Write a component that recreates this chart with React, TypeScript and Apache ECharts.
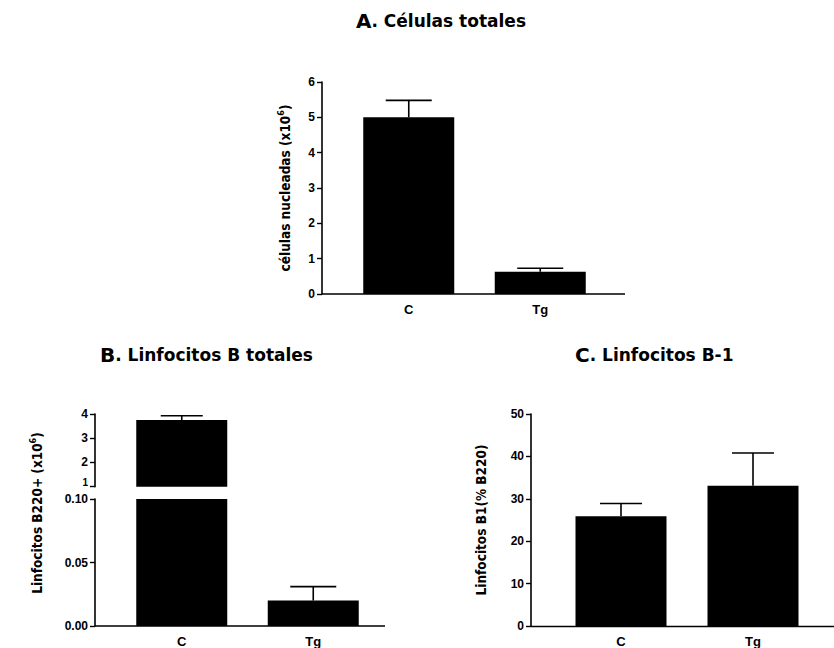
import React, { useEffect, useRef } from 'react';
import * as echarts from 'echarts';

// ---- data ----
const categories = ['C', 'Tg'];
// A. Células totales (x10^6)
const cellsMean = [5.0, 0.63];
const cellsErr = [0.48, 0.1];
// B. Linfocitos B totales, B220+ (x10^6) – broken axis
const b220Mean = [3.75, 0.02];
const b220Err = [0.18, 0.011];
// C. Linfocitos B-1 (% B220)
const b1Mean = [25.9, 33.1];
const b1Err = [3.0, 7.7];

const titles = ['Células totales', 'Linfocitos B totales', 'Linfocitos B-1'];
const titleLetters = ['A', 'B', 'C'];

const SANS = "'Liberation Sans', Arial, Helvetica, sans-serif";
const NARROW = "'Liberation Sans Narrow', 'DejaVu Sans Condensed', 'Arial Narrow', sans-serif";
const WIDE = "'DejaVu Sans', Verdana, sans-serif";

const nameRich = {
  t: { fontFamily: NARROW, fontWeight: 'bold', fontSize: 13.5, color: '#000', lineHeight: 17 },
  s: { fontFamily: NARROW, fontWeight: 'bold', fontSize: 9, color: '#000', verticalAlign: 'top', lineHeight: 9 },
};

const titleRich = {
  a: { fontFamily: WIDE, fontWeight: 'bold', fontSize: 20, color: '#000' },
  b: { fontFamily: WIDE, fontWeight: 'bold', fontSize: 17, color: '#000' },
};

function makeErrRender(capW: number) {
  return (params: any, api: any) => {
    const x = api.value(0);
    const y = api.value(1);
    const e = api.value(2);
    const p0 = api.coord([x, y]);
    const p1 = api.coord([x, y + e]);
    const st = { stroke: '#000', lineWidth: 1.6 };
    return {
      type: 'group',
      children: [
        { type: 'line', shape: { x1: p0[0], y1: p0[1], x2: p1[0], y2: p1[1] }, style: st },
        { type: 'line', shape: { x1: p1[0] - capW / 2, y1: p1[1], x2: p1[0] + capW / 2, y2: p1[1] }, style: st },
      ],
    };
  };
}

const yAxisBase = (grid: number, min: number, max: number, interval: number, offset: number, fmt?: any, rich?: any) => ({
  type: 'value',
  gridIndex: grid,
  min,
  max,
  interval,
  offset,
  splitLine: { show: false },
  axisLine: { show: true, lineStyle: { color: '#000', width: 1.6 } },
  axisTick: { show: true, length: 5, lineStyle: { color: '#000', width: 1.4 } },
  axisLabel: {
    color: '#000',
    fontFamily: SANS,
    fontWeight: 'bold',
    fontSize: 12,
    margin: 7,
    formatter: fmt,
    rich,
  },
});

const xAxisBase = (grid: number, showLabels: boolean) => ({
  type: 'category',
  gridIndex: grid,
  data: categories,
  axisLine: { show: false },
  axisTick: { show: false },
  axisLabel: {
    show: showLabels,
    color: '#000',
    fontFamily: SANS,
    fontWeight: 'bold',
    fontSize: 13,
    margin: 9,
  },
});

const barSeries = (grid: number, values: number[]) => ({
  type: 'bar',
  xAxisIndex: grid,
  yAxisIndex: grid,
  data: values,
  barWidth: 91,
  clip: true,
  itemStyle: { color: '#000' },
  silent: true,
});

const errSeries = (grid: number, values: number[], errs: number[], capW: number) => ({
  type: 'custom',
  xAxisIndex: grid,
  yAxisIndex: grid,
  clip: true,
  silent: true,
  renderItem: makeErrRender(capW),
  encode: { x: 0, y: 1 },
  data: categories.map((_, i) => [i, values[i], errs[i]]),
  z: 3,
});

const baseline = (x1: number, x2: number, y: number) => ({
  type: 'line',
  shape: { x1, y1: y, x2, y2: y },
  style: { stroke: '#000', lineWidth: 1.6 },
  silent: true,
});

export default function App() {
  const ref = useRef<HTMLDivElement>(null);
  useEffect(() => {
    if (!ref.current) return;
    const chart = echarts.init(ref.current, undefined, { renderer: 'svg' });
    const option: any = {
      animation: false,
      backgroundColor: '#fff',
      title: [
        { text: `{a|${titleLetters[0]}}{b|. ${titles[0]}}`, left: 351, top: 6, textStyle: { rich: titleRich } },
        { text: `{a|${titleLetters[1]}}{b|. ${titles[1]}}`, left: 95, top: 340, textStyle: { rich: titleRich } },
        { text: `{a|${titleLetters[2]}}{b|. ${titles[2]}}`, left: 570, top: 340, textStyle: { rich: titleRich } },
      ],
      grid: [
        { left: 343, top: 82, width: 263, height: 212 },
        { left: 116, top: 414, width: 263, height: 72.7 },
        { left: 116, top: 499, width: 263, height: 127 },
        { left: 555, top: 414, width: 264, height: 212.5 },
      ],
      xAxis: [xAxisBase(0, true), { ...xAxisBase(1, false), show: false }, xAxisBase(2, true), xAxisBase(3, true)],
      yAxis: [
        {
          ...yAxisBase(0, 0, 6, 1, 21),
          name: '{t|células nucleadas (x10}{s|6}{t|)}',
          nameLocation: 'middle',
          nameGap: 29,
          nameRotate: 90,
          nameTextStyle: { rich: nameRich },
        },
        yAxisBase(
          1, 1, 4, 1, 21,
          (v: number) => (v === 1 ? '{lo|1}' : String(v)),
          { lo: { fontFamily: SANS, fontWeight: 'bold', fontSize: 10, color: '#000', padding: [0, 0, 9, 0] } }
        ),
        yAxisBase(2, 0, 0.1, 0.05, 21, (v: number) => v.toFixed(2)),
        {
          ...yAxisBase(3, 0, 50, 10, 24),
          name: '{t|Linfocitos B1(% B220)}',
          nameLocation: 'middle',
          nameGap: 42,
          nameRotate: 90,
          nameTextStyle: { rich: nameRich },
        },
      ],
      series: [
        barSeries(0, cellsMean),
        errSeries(0, cellsMean, cellsErr, 46),
        barSeries(1, b220Mean),
        errSeries(1, b220Mean, b220Err, 42),
        barSeries(2, b220Mean),
        errSeries(2, b220Mean, b220Err, 46),
        barSeries(3, b1Mean),
        errSeries(3, b1Mean, b1Err, 42),
      ],
      graphic: [
        baseline(322, 625, 294),
        baseline(95, 385, 626),
        baseline(531, 834, 626.5),
        {
          type: 'text',
          x: 37,
          y: 513,
          rotation: Math.PI / 2,
          silent: true,
          style: {
            text: '{t|Linfocitos B220+ (x10}{s|6}{t|)}',
            rich: nameRich,
            align: 'center',
            verticalAlign: 'middle',
          },
        },
      ],
    };
    chart.setOption(option);
    return () => chart.dispose();
  }, []);
  return (
    <div
      ref={ref}
      style={{ position: 'fixed', left: 0, top: 0, width: 834, height: 648, background: '#fff' }}
    />
  );
}
